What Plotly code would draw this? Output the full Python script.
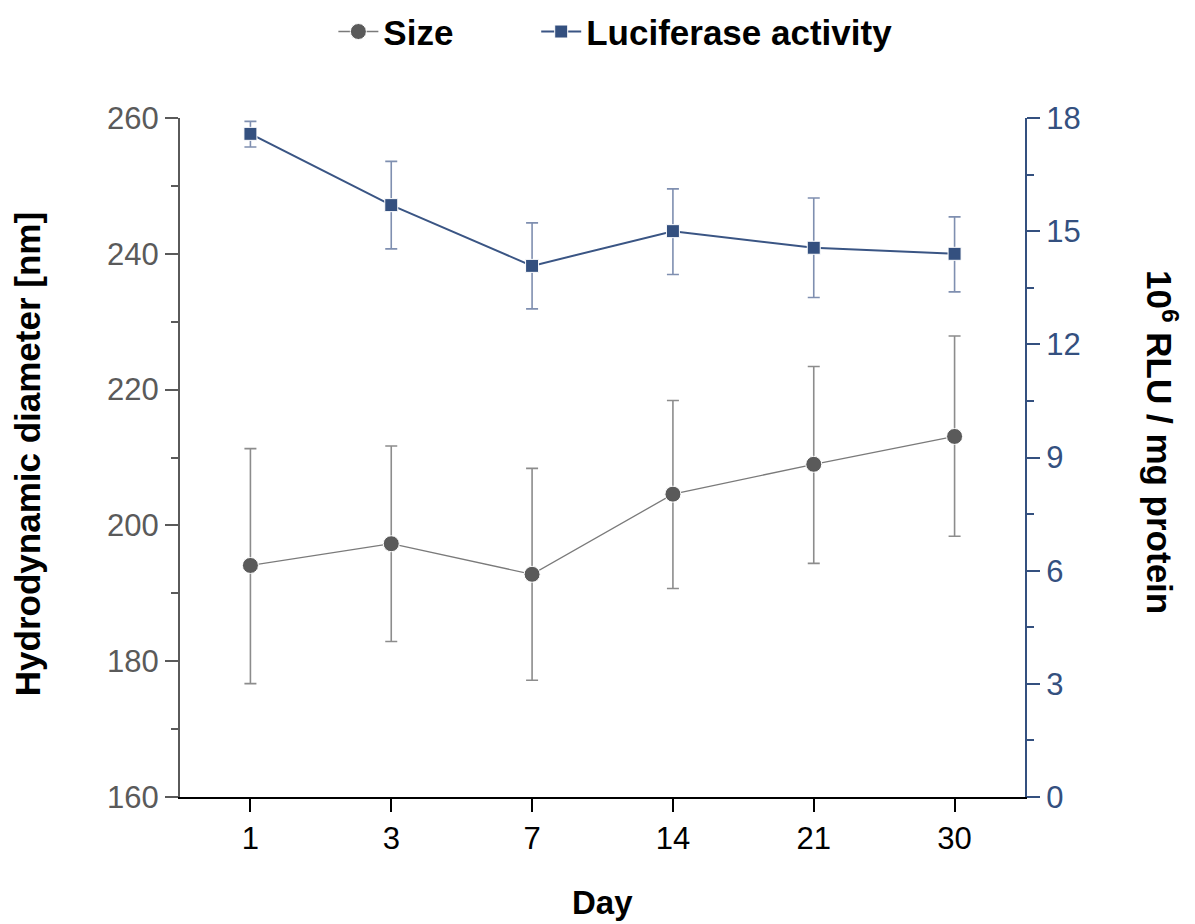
import plotly.graph_objects as go

days = ["1", "3", "7", "14", "21", "30"]
size_nm = [194.1, 197.3, 192.8, 204.6, 209.0, 213.1]
size_err_plus = [17.2, 14.4, 15.6, 13.8, 14.4, 14.8]
size_err_minus = [17.4, 14.4, 15.6, 13.9, 14.6, 14.7]
luc = [17.58, 15.69, 14.08, 15.0, 14.56, 14.4]
luc_err_plus = [0.33, 1.16, 1.14, 1.12, 1.32, 0.98]
luc_err_minus = [0.35, 1.16, 1.14, 1.15, 1.32, 1.01]

left_ticks = [160, 180, 200, 220, 240, 260]
right_ticks = [0, 3, 6, 9, 12, 15, 18]

GRAY = "#5a5a5a"
BLUE = "#34507f"
NARROW = "Liberation Sans Narrow, Arial Narrow, Liberation Sans, Arial"
SANS = "Liberation Sans, Arial"

fig = go.Figure()
fig.add_trace(go.Scatter(
    x=days, y=size_nm, name="<b>Size</b>" + "&nbsp;" * 8, mode="lines+markers",
    line=dict(color="#7a7a7a", width=1.3),
    marker=dict(symbol="circle", size=16, color=GRAY, line=dict(color="white", width=1)),
    error_y=dict(type="data", symmetric=False, array=size_err_plus, arrayminus=size_err_minus,
                 color="#8c8c8c", thickness=1.6, width=6),
    yaxis="y",
))
fig.add_trace(go.Scatter(
    x=days, y=luc, name="<b>Luciferase activity</b>", mode="lines+markers",
    line=dict(color="#3a5584", width=2),
    marker=dict(symbol="square", size=13, color=BLUE, line=dict(color="white", width=1)),
    error_y=dict(type="data", symmetric=False, array=luc_err_plus, arrayminus=luc_err_minus,
                 color="#7f8fb0", thickness=1.6, width=6),
    yaxis="y2",
))

fig.update_layout(
    width=1195, height=924,
    margin=dict(l=180, r=170, t=118, b=127, autoexpand=False),
    paper_bgcolor="white", plot_bgcolor="white",
    showlegend=True,
    legend=dict(orientation="h", x=0.1815, xanchor="left", y=1.127, yanchor="middle",
                font=dict(family=NARROW, size=35, color="black"),
                itemwidth=40, tracegroupgap=0, bgcolor="rgba(0,0,0,0)"),
    xaxis=dict(
        type="category", categoryorder="array", categoryarray=days,
        range=[-0.5, 5.5],
        showline=True, linecolor="black", linewidth=2,
        ticks="outside", ticklen=13, tickwidth=2, tickcolor="black",
        tickfont=dict(family=NARROW, size=31, color="black"),
        showgrid=False, zeroline=False,
    ),
    yaxis=dict(
        range=[160, 260], tickvals=left_ticks,
        showline=True, linecolor=GRAY, linewidth=2,
        ticks="outside", ticklen=13, tickwidth=2, tickcolor=GRAY,
        tickfont=dict(family=SANS, size=31, color=GRAY),
        minor=dict(ticks="outside", ticklen=7, tickwidth=2, tickcolor=GRAY, tickvals=[170, 190, 210, 230, 250]),
        showgrid=False, zeroline=False,
    ),
    yaxis2=dict(
        range=[0, 18], tickvals=right_ticks, overlaying="y", side="right",
        showline=True, linecolor=BLUE, linewidth=2,
        ticks="outside", ticklen=13, tickwidth=2, tickcolor=BLUE,
        tickfont=dict(family=SANS, size=31, color=BLUE),
        minor=dict(ticks="outside", ticklen=7, tickwidth=2, tickcolor=BLUE, tickvals=[1.5, 4.5, 7.5, 10.5, 13.5, 16.5]),
        showgrid=False, zeroline=False,
    ),
    annotations=[
        dict(text="<b>Hydrodynamic diameter [nm]</b>", xref="paper", yref="paper",
             x=-0.181, y=0.505, textangle=-90, showarrow=False,
             font=dict(family=NARROW, size=35, color="black"), xanchor="center", yanchor="middle"),
        dict(text="<b>10<sup>6</sup> RLU / mg protein</b>", xref="paper", yref="paper",
             x=1.162, y=0.523, textangle=90, showarrow=False,
             font=dict(family=NARROW, size=35, color="black"), xanchor="center", yanchor="middle"),
        dict(text="<b>Day</b>", xref="paper", yref="paper",
             x=0.5, y=-0.155, showarrow=False,
             font=dict(family=NARROW, size=33, color="black"), xanchor="center", yanchor="middle"),
    ],
)

fig.write_html("out.html")
